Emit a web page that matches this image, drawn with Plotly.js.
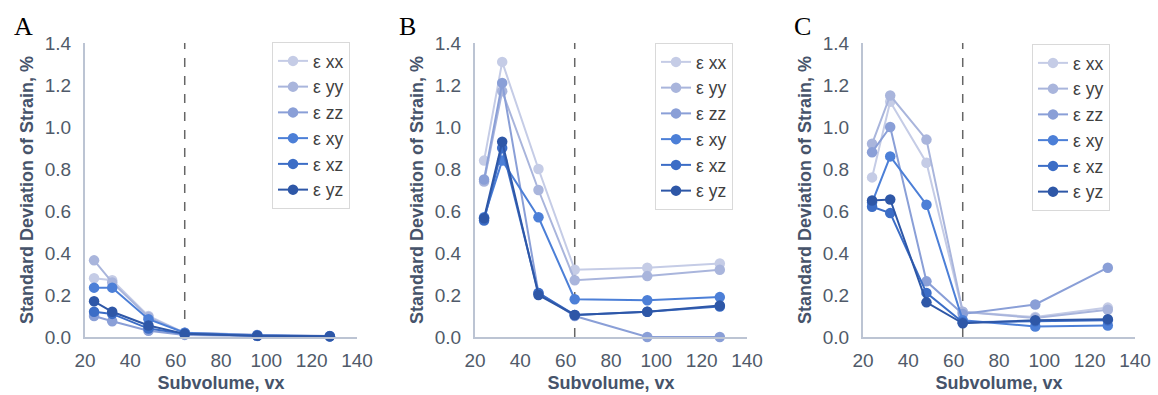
<!DOCTYPE html>
<html>
<head>
<meta charset="utf-8">
<script src="https://cdn.plot.ly/plotly-3.0.1.min.js"></script>
<style>html,body{margin:0;padding:0;background:#fff;}#chart{width:1158px;height:395px;}</style>
</head>
<body>
<div id="chart"></div>
<script>
// ---- data ----
const subvolume = [24, 32, 48, 64, 96, 128];
const seriesNames = ["ε xx", "ε yy", "ε zz", "ε xy", "ε xz", "ε yz"];
const panelLabels = ["A", "B", "C"];
const cutoffSubvolume = 64;

const A_xx = [0.28, 0.27, 0.10, 0.020, 0.010, 0.005];
const A_yy = [0.365, 0.26, 0.095, 0.020, 0.010, 0.005];
const A_zz = [0.10, 0.075, 0.030, 0.010, 0.005, 0.003];
const A_xy = [0.235, 0.235, 0.085, 0.020, 0.008, 0.004];
const A_xz = [0.12, 0.11, 0.040, 0.015, 0.006, 0.003];
const A_yz = [0.17, 0.12, 0.055, 0.015, 0.006, 0.003];

const B_xx = [0.84, 1.31, 0.80, 0.32, 0.33, 0.35];
const B_yy = [0.74, 1.17, 0.70, 0.27, 0.29, 0.32];
const B_zz = [0.75, 1.21, 0.21, 0.10, 0.00, 0.00];
const B_xy = [0.57, 0.84, 0.57, 0.18, 0.175, 0.19];
const B_xz = [0.555, 0.90, 0.21, 0.105, 0.12, 0.145];
const B_yz = [0.565, 0.93, 0.20, 0.105, 0.12, 0.15];

const C_xx = [0.76, 1.12, 0.83, 0.12, 0.095, 0.14];
const C_yy = [0.92, 1.15, 0.94, 0.12, 0.09, 0.13];
const C_zz = [0.88, 1.00, 0.265, 0.11, 0.155, 0.33];
const C_xy = [0.64, 0.86, 0.63, 0.08, 0.05, 0.055];
const C_xz = [0.62, 0.59, 0.21, 0.07, 0.075, 0.08];
const C_yz = [0.65, 0.655, 0.165, 0.065, 0.08, 0.085];

const panels = [
  [A_xx, A_yy, A_zz, A_xy, A_xz, A_yz],
  [B_xx, B_yy, B_zz, B_xy, B_xz, B_yz],
  [C_xx, C_yy, C_zz, C_xy, C_xz, C_yz]
];

// ---- styles ----
const colors = ["#c5cce6", "#a9b5dc", "#8a9fd7", "#4c7fd7", "#3c6dc6", "#2e57a7"];
const W = 1158, H = 395;
const xDomainsPx = [[85, 357], [475, 747], [863, 1135]];
const yDomainPx = [43, 337];
const legendPx = [[272, 42], [655, 43], [1032, 44]];
const letterPx = [12, 397, 792];
const tickColor = "#505a69";
const titleColor = "#46536a";
const axisLineColor = "#bcc4d3";
const fontFam = "Liberation Sans, Arial, sans-serif";

const traces = [];
const layout = {
  width: W, height: H,
  margin: {l: 0, r: 0, t: 0, b: 0},
  paper_bgcolor: "#ffffff",
  plot_bgcolor: "#ffffff",
  font: {family: fontFam, color: tickColor},
  shapes: [],
  annotations: []
};

panels.forEach((series, p) => {
  const sfx = p === 0 ? "" : String(p + 1);
  const legendId = "legend" + sfx;
  series.forEach((vals, i) => {
    traces.push({
      type: "scatter",
      mode: "lines+markers",
      x: subvolume,
      y: vals,
      name: seriesNames[i],
      xaxis: "x" + sfx,
      yaxis: "y" + sfx,
      legend: legendId,
      cliponaxis: false,
      line: {color: colors[i], width: 2},
      marker: {color: colors[i], size: 10.5}
    });
  });
  const xd = xDomainsPx[p];
  layout["xaxis" + sfx] = {
    domain: [xd[0] / W, xd[1] / W],
    anchor: "y" + sfx,
    range: [20, 140],
    dtick: 20, tick0: 20,
    showgrid: false, zeroline: false,
    showline: true, linecolor: axisLineColor, linewidth: 2,
    ticks: "", ticklabelstandoff: 5,
    tickfont: {size: 19, color: tickColor},
    title: {text: "Subvolume, vx", standoff: 7,
            font: {size: 18, color: titleColor, family: fontFam, weight: "bold"}}
  };
  layout["yaxis" + sfx] = {
    domain: [1 - yDomainPx[1] / H, 1 - yDomainPx[0] / H],
    anchor: "x" + sfx,
    range: [0, 1.4],
    dtick: 0.2, tickformat: ".1f",
    showgrid: false, zeroline: false,
    showline: true, linecolor: axisLineColor, linewidth: 2,
    ticks: "", ticklabelstandoff: 8,
    tickfont: {size: 19, color: tickColor},
    title: {text: "Standard Deviation of Strain, %", standoff: 6,
            font: {size: 18, color: titleColor, family: fontFam, weight: "bold"}}
  };
  const lp = legendPx[p];
  layout[legendId] = {
    x: lp[0] / W, y: 1 - lp[1] / H,
    xanchor: "left", yanchor: "top",
    xref: "paper", yref: "paper",
    bgcolor: "#ffffff",
    bordercolor: "#d9d9d9", borderwidth: 1,
    font: {size: 17.5, color: "#404040", family: fontFam},
    itemwidth: 30,
    tracegroupgap: 0
  };
  layout.shapes.push({
    type: "line", xref: "x" + sfx, yref: "y" + sfx,
    x0: cutoffSubvolume, x1: cutoffSubvolume, y0: 0, y1: 1.4,
    line: {color: "#666666", width: 1.5, dash: "dash"},
    layer: "below"
  });
  layout.annotations.push({
    text: panelLabels[p], xref: "paper", yref: "paper",
    x: letterPx[p] / W, y: 1 - 10 / H, xanchor: "left", yanchor: "top",
    showarrow: false,
    font: {family: "Liberation Serif, Times New Roman, serif", size: 26, color: "#000000"}
  });
});

Plotly.newPlot("chart", traces, layout, {displayModeBar: false, staticPlot: true});
</script>
</body>
</html>
